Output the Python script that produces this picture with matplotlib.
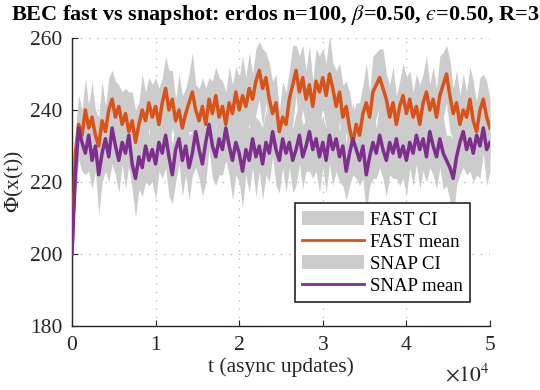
import numpy as np
import matplotlib
matplotlib.use("Agg")
import matplotlib.pyplot as plt
from matplotlib.patches import Patch
from matplotlib.lines import Line2D

# time axis: one sample every 400 async updates
t_step = 400
n_pts = 126

fast_mean = [
    200, 228, 236, 233, 240, 235, 238, 233, 230, 237, 234, 240, 243, 238, 241, 236, 239, 234, 237, 231, 236, 240, 237, 242, 238,
    241, 236, 242, 246, 240, 243, 237, 240, 235, 239, 242, 245, 240, 237, 241, 236, 243, 239, 244, 238, 241, 236, 242, 239, 245,
    240, 244, 241, 246, 243, 248, 251, 246, 249, 243, 239, 242, 234, 238, 236, 243, 247, 251, 245, 249, 243, 247, 241, 248, 245,
    249, 244, 250, 246, 241, 245, 238, 241, 235, 231, 236, 233, 239, 242, 238, 245, 247, 249, 246, 243, 238, 242, 236, 241, 244,
    239, 243, 238, 241, 236, 242, 245, 240, 243, 238, 244, 247, 250, 244, 239, 242, 236, 240, 238, 243, 237, 234, 240, 243, 238, 235,
]
fast_hw = [
    0, 6, 8, 7, 9, 6, 10, 7, 8, 11, 7, 9, 8, 10, 6, 9, 7, 11, 8, 9, 6, 10, 8, 7, 9,
    8, 10, 7, 9, 11, 8, 6, 10, 9, 7, 8, 11, 7, 9, 8, 10, 6, 9, 8, 11, 7, 9, 10, 8, 7,
    9, 11, 8, 10, 7, 9, 8, 11, 7, 10, 9, 8, 6, 10, 9, 8, 11, 7, 10, 9, 8, 11, 7, 9, 10,
    8, 9, 11, 7, 10, 8, 9, 7, 10, 8, 6, 9, 8, 11, 7, 10, 9, 8, 11, 7, 9, 10, 8, 7, 9,
    10, 8, 7, 9, 11, 8, 10, 7, 9, 8, 11, 9, 8, 10, 7, 9, 8, 10, 7, 9, 11, 8, 9, 7, 10, 8,
]
snap_mean = [
    200, 222, 235, 231, 228, 233, 226, 230, 222, 228, 232, 227, 235, 230, 226, 231, 228, 233, 225, 221, 227, 224, 230, 226, 229,
    225, 231, 228, 233, 227, 222, 229, 232, 226, 230, 224, 228, 234, 229, 225, 231, 236, 230, 227, 232, 229, 235, 230, 226, 231,
    228, 223, 229, 226, 232, 227, 230, 225, 231, 228, 234, 229, 226, 232, 228, 231, 226, 229, 233, 227, 230, 234, 229, 232, 227,
    231, 226, 233, 229, 232, 227, 230, 223, 228, 232, 229, 226, 230, 222, 227, 231, 228, 233, 229, 226, 231, 228, 232, 227, 230,
    226, 231, 228, 233, 229, 232, 227, 234, 230, 227, 232, 228, 226, 224, 221, 227, 231, 234, 229, 232, 228, 233, 230, 235, 229, 231,
]
snap_hw = [
    0, 7, 9, 8, 6, 10, 8, 7, 11, 8, 9, 7, 10, 8, 9, 6, 10, 8, 7, 11, 9, 8, 10, 7, 9,
    10, 8, 7, 9, 11, 8, 9, 7, 10, 8, 9, 6, 10, 8, 9, 11, 7, 9, 8, 10, 7, 9, 8, 11, 9,
    8, 10, 7, 9, 8, 11, 7, 10, 9, 8, 7, 10, 9, 8, 11, 7, 9, 10, 8, 9, 7, 11, 8, 9, 10,
    7, 9, 8, 10, 9, 7, 11, 8, 9, 10, 8, 7, 9, 11, 8, 10, 7, 9, 8, 10, 9, 7, 11, 8, 9,
    10, 7, 9, 8, 11, 9, 7, 10, 8, 9, 8, 10, 7, 9, 11, 8, 9, 10, 7, 9, 8, 11, 9, 7, 10, 8,
]

assert len(fast_mean) == n_pts and len(fast_hw) == n_pts
assert len(snap_mean) == n_pts and len(snap_hw) == n_pts

t = np.arange(n_pts) * t_step
fast_mean = np.array(fast_mean, dtype=float)
fast_hw = np.array(fast_hw, dtype=float)
snap_mean = np.array(snap_mean, dtype=float)
snap_hw = np.array(snap_hw, dtype=float)

fast_color = "#D95319"
snap_color = "#7E2F8E"
ci_color = "#cccccc"
axis_color = "#262626"
fs = 15.5

plt.rcParams["font.family"] = ["Liberation Serif", "DejaVu Serif"]
plt.rcParams["mathtext.fontset"] = "stix"
plt.rcParams["font.size"] = fs

fig = plt.figure(figsize=(5.4, 3.9), dpi=100)
ax = fig.add_axes([0.1333, 0.1641, 0.7741, 0.7385])

ax.fill_between(t, fast_mean - fast_hw, fast_mean + fast_hw, color=ci_color, lw=0, zorder=2)
ax.fill_between(t, snap_mean - snap_hw, snap_mean + snap_hw, color=ci_color, lw=0, zorder=2)
ax.plot(t, fast_mean, color=fast_color, lw=2.5, zorder=3)
ax.plot(t, snap_mean, color=snap_color, lw=2.5, zorder=3)

ax.set_xlim(0, 50000)
ax.set_ylim(180, 260)
ax.set_xticks([0, 10000, 20000, 30000, 40000, 50000])
ax.set_yticks([180, 200, 220, 240, 260])
ax.ticklabel_format(axis="x", style="sci", scilimits=(4, 4), useMathText=True)
ax.xaxis.get_offset_text().set_visible(False)
ax.text(1.0, -0.17, r"$\times10^{4}$", transform=ax.transAxes, ha="right", va="center",
        fontsize=fs, color=axis_color)

ax.grid(True, color="#bdbdbd", linestyle=(0, (1, 5)), linewidth=1.0, zorder=0)
ax.set_axisbelow(True)
for side in ("top", "right"):
    ax.spines[side].set_visible(False)
for side in ("left", "bottom"):
    ax.spines[side].set_color(axis_color)
    ax.spines[side].set_linewidth(1.0)
ax.tick_params(direction="in", length=4, width=0.8, colors=axis_color, labelsize=fs, pad=7)

ax.set_xlabel("t (async updates)", fontsize=fs, color=axis_color, labelpad=2)
ax.set_ylabel(r"$\Phi$(x(t))", fontsize=fs, color=axis_color, labelpad=3)
ax.set_title("BEC fast vs snapshot: erdos n=100, $\\beta$=0.50, $\u03f5$=0.50, R=30",
             fontsize=16, fontweight="bold", pad=13)

handles = [
    Patch(facecolor=ci_color, edgecolor="none"),
    Line2D([], [], color=fast_color, lw=2.0),
    Patch(facecolor=ci_color, edgecolor="none"),
    Line2D([], [], color=snap_color, lw=2.0),
]
labels = ["FAST CI", "FAST mean", "SNAP CI", "SNAP mean"]
leg = ax.legend(handles, labels, loc="lower right", bbox_to_anchor=(0.952, 0.083),
                fontsize=13.5, frameon=True, fancybox=False, handlelength=3.3,
                handleheight=0.8, handletextpad=0.3, labelspacing=0.23,
                borderpad=0.4, borderaxespad=0)
leg.get_frame().set_edgecolor(axis_color)
leg.get_frame().set_linewidth(1.2)
leg.get_frame().set_alpha(1.0)

fig.savefig("out.png", dpi=100)
